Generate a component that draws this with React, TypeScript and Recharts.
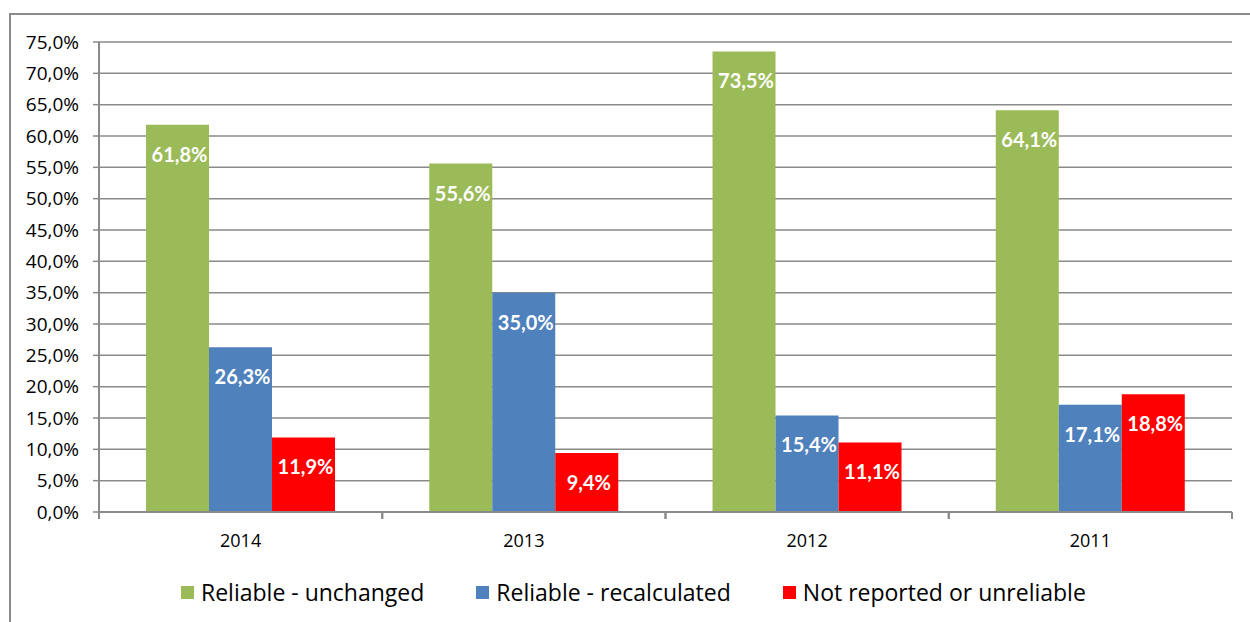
import React from 'react';
import { BarChart, Bar, XAxis, YAxis, CartesianGrid, Legend, LabelList } from 'recharts';

const years = ['2014', '2013', '2012', '2011'];
const reliableUnchanged = [61.8, 55.6, 73.5, 64.1];
const reliableRecalculated = [26.3, 35.0, 15.4, 17.1];
const notReported = [11.9, 9.4, 11.1, 18.8];
const yTicks = [0, 5, 10, 15, 20, 25, 30, 35, 40, 45, 50, 55, 60, 65, 70, 75];
const seriesNames = ['Reliable - unchanged', 'Reliable - recalculated', 'Not reported or unreliable'];
const seriesColors = ['#9BBB59', '#4F81BD', '#FF0000'];

const data = years.map((y, i) => ({
  year: y,
  a: reliableUnchanged[i],
  b: reliableRecalculated[i],
  c: notReported[i],
}));

const GRAY = '#8a8a8a';
const FONT = 'Lato, "Open Sans", sans-serif';
const FONT2 = '"Open Sans", Lato, sans-serif';

const fmt = (v: number) => `${v.toFixed(1).replace('.', ',')}%`;

const BarLabel = (props: any) => {
  const { x, y, width, value } = props;
  return (
    <text
      x={Number(x) + Number(width) / 2 + 2}
      y={Number(y) + 29}
      fill="#fff"
      fontSize={20}
      fontWeight={700}
      fontFamily={FONT}
      textAnchor="middle"
      dominantBaseline="central"
    >
      {fmt(Number(value))}
    </text>
  );
};

const XTick = (props: any) => {
  const { x, y, payload, width, visibleTicksCount } = props;
  const half = Number(width) / (2 * Number(visibleTicksCount || 4));
  return (
    <g>
      <line x1={x - half} x2={x - half} y1={y} y2={y + 7} stroke={GRAY} strokeWidth={2} />
      <line x1={x + half} x2={x + half} y1={y} y2={y + 7} stroke={GRAY} strokeWidth={2} />
      <text x={x} y={y + 28} textAnchor="middle" dominantBaseline="central" fontSize={18} fill="#000" fontFamily={FONT2}>
        {payload.value}
      </text>
    </g>
  );
};

const LegendContent = () => (
  <div style={{ display: 'flex', alignItems: 'center', paddingLeft: 181, gap: 52, fontFamily: FONT2, fontSize: 23, color: '#000' }}>
    {seriesNames.map((n, i) => (
      <div key={n} style={{ display: 'flex', alignItems: 'center' }}>
        <span style={{ display: 'inline-block', width: 13, height: 13, background: seriesColors[i], marginRight: 7 }} />
        <span style={{ lineHeight: '26px' }}>{n}</span>
      </div>
    ))}
  </div>
);

export default function App() {
  return (
    <div style={{ position: 'absolute', left: 0, top: 0, width: 1250, height: 622, overflow: 'hidden', background: '#fff', fontFamily: FONT }}>
      <div style={{ position: 'absolute', left: 9, top: 13, width: 1400, height: 800, borderLeft: `2px solid ${GRAY}`, borderTop: `2px solid ${GRAY}` }} />
      <BarChart
        width={1250}
        height={622}
        data={data}
        margin={{ top: 42, right: 18, left: 0, bottom: 80 }}
        barCategoryGap="16.6%"
        barGap={0}
      >
        <CartesianGrid vertical={false} stroke={GRAY} strokeWidth={1.5} />
        <XAxis
          dataKey="year"
          height={30}
          axisLine={{ stroke: GRAY, strokeWidth: 2 }}
          tickLine={false}
          tickSize={0}
          tickMargin={0}
          tick={<XTick />}
          interval={0}
        />
        <YAxis
          width={99}
          domain={[0, 75]}
          ticks={yTicks}
          interval={0}
          tickFormatter={fmt}
          axisLine={{ stroke: GRAY, strokeWidth: 2 }}
          tickLine={{ stroke: GRAY, strokeWidth: 1.5 }}
          tickSize={6}
          tickMargin={14}
          tick={{ fill: '#000', fontSize: 19, fontFamily: FONT2 }}
        />
        <Legend
          verticalAlign="middle"
          align="center"
          layout="horizontal"
          content={<LegendContent />}
          wrapperStyle={{ top: 579, left: 0, width: 1250, height: 26 }}
        />
        <Bar dataKey="a" name={seriesNames[0]} fill={seriesColors[0]} isAnimationActive={false}>
          <LabelList dataKey="a" content={<BarLabel />} />
        </Bar>
        <Bar dataKey="b" name={seriesNames[1]} fill={seriesColors[1]} isAnimationActive={false}>
          <LabelList dataKey="b" content={<BarLabel />} />
        </Bar>
        <Bar dataKey="c" name={seriesNames[2]} fill={seriesColors[2]} isAnimationActive={false}>
          <LabelList dataKey="c" content={<BarLabel />} />
        </Bar>
      </BarChart>
    </div>
  );
}
